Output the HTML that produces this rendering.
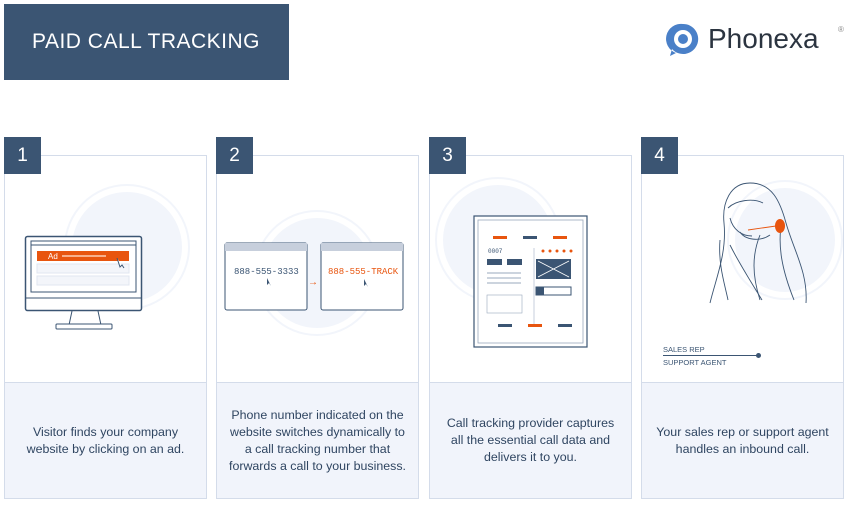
<!DOCTYPE html>
<html><head><meta charset="utf-8"><style>
body{margin:0;width:853px;height:506px;background:#fff;position:relative;overflow:hidden;font-family:"Liberation Sans",sans-serif}
.hdr{position:absolute;left:4px;top:4px;width:285px;height:76px;background:#3b5573;color:#fff;font-size:21px;line-height:76px;text-indent:28px;letter-spacing:0.5px}
.card{position:absolute;top:155px;width:203px;height:344px;border:1px solid #d4dcea;box-sizing:border-box}
.txt{position:absolute;left:0;right:0;bottom:0;height:115px;background:#f1f4fb;border-top:1px solid #d4dcea;display:flex;align-items:center;justify-content:center;text-align:center;font-size:12.4px;line-height:17px;color:#2f4561;padding:0 2px;white-space:nowrap}
.badge{position:absolute;top:137px;width:37px;height:37px;background:#3b5573;color:#fff;font-size:19px;line-height:37px;text-align:center}
.circ{position:absolute;border-radius:50%;background:#f2f5fb;box-shadow:0 0 0 6px #fff,0 0 0 8px #f2f5fb}
svg{position:absolute}
</style></head><body>
<div class="hdr">PAID CALL TRACKING</div>
<svg style="left:666px;top:22px" width="34" height="36" viewBox="0 0 34 36"><path d="M17 2a15 15 0 1 1-11 25l-2 7 6-3A15 15 0 0 1 17 2z" fill="#4a80c8"/><circle cx="17" cy="17" r="9" fill="#fff"/><circle cx="17" cy="17" r="5" fill="#4a80c8"/></svg>
<div style="position:absolute;left:708px;top:23px;font-size:28px;color:#2b3440">Phonexa</div>
<div style="position:absolute;left:838px;top:25px;font-size:8px;color:#888">®</div>

<div class="card" style="left:4px"><div class="txt">Visitor finds your company<br>website by clicking on an ad.</div></div>
<div class="card" style="left:216px"><div class="txt">Phone number indicated on the<br>website switches dynamically to<br>a call tracking number that<br>forwards a call to your business.</div></div>
<div class="card" style="left:429px"><div class="txt">Call tracking provider captures<br>all the essential call data and<br>delivers it to you.</div></div>
<div class="card" style="left:641px"><div class="txt">Your sales rep or support agent<br>handles an inbound call.</div></div>
<div class="badge" style="left:4px">1</div>
<div class="badge" style="left:216px">2</div>
<div class="badge" style="left:429px">3</div>
<div class="badge" style="left:641px">4</div>

<div class="circ" style="left:72px;top:192px;width:110px;height:110px"></div>
<div class="circ" style="left:262px;top:218px;width:110px;height:110px"></div>
<div class="circ" style="left:443px;top:185px;width:110px;height:110px"></div>
<div class="circ" style="left:735px;top:188px;width:100px;height:104px"></div>

<!-- monitor -->
<svg style="left:24px;top:235px" width="122" height="96"><rect x="1.5" y="1.5" width="116" height="74" rx="2" fill="#fff" stroke="#3b5573" stroke-width="1.5"/><rect x="7" y="6" width="105" height="51" fill="#fff" stroke="#3b5573"/><line x1="7" y1="10" x2="112" y2="10" stroke="#3b5573"/><rect x="13" y="16" width="92" height="10" fill="#e8550f"/><text x="24" y="24" font-size="8" fill="#fff" font-family="Liberation Sans">Ad</text><line x1="38" y1="21" x2="82" y2="21" stroke="#f7b08c" stroke-width="2"/><rect x="13" y="29" width="92" height="9" fill="#f3f5fa" stroke="#e0e6f0"/><rect x="13" y="41" width="92" height="9" fill="#f3f5fa" stroke="#e0e6f0"/><line x1="2" y1="63" x2="117" y2="63" stroke="#3b5573"/><path d="M48 76l-3 14h32l-3-14" fill="none" stroke="#3b5573"/><rect x="32" y="89" width="56" height="5" rx="1" fill="#fff" stroke="#3b5573"/><path d="M93 23l3 9 2-2 2 3" fill="#fff" stroke="#3b5573"/></svg>

<!-- windows -->
<svg style="left:224px;top:242px" width="182" height="70"><rect x="1" y="1" width="82" height="67" rx="2" fill="#fff" stroke="#3b5573"/><rect x="1" y="1" width="82" height="8" fill="#c7cfdc"/><rect x="97" y="1" width="82" height="67" rx="2" fill="#fff" stroke="#3b5573"/><rect x="97" y="1" width="82" height="8" fill="#c7cfdc"/><text x="10" y="32" font-size="9" fill="#3b5573" font-family="Liberation Mono">888-555-3333</text><text x="104" y="32" font-size="9" fill="#e8550f" font-family="Liberation Mono">888-555-TRACK</text><text x="84" y="43" font-size="10" fill="#e8550f">→</text><path d="M43 36l0 7 2-2 2 3" fill="#3b5573"/><path d="M140 37l0 7 2-2 2 3" fill="#3b5573"/></svg>

<!-- report -->
<svg style="left:473px;top:215px" width="116" height="134"><rect x="1" y="1" width="113" height="131" fill="#fff" stroke="#3b5573" stroke-width="1.2"/><rect x="5" y="5" width="105" height="123" fill="none" stroke="#9aa8bc" stroke-width="0.8"/><rect x="20" y="21" width="14" height="3" fill="#e8550f"/><rect x="50" y="21" width="14" height="3" fill="#3b5573"/><rect x="80" y="21" width="14" height="3" fill="#e8550f"/><text x="15" y="38" font-size="6" fill="#3b5573" font-family="Liberation Mono">0007</text><rect x="14" y="44" width="15" height="6" fill="#3b5573"/><rect x="34" y="44" width="15" height="6" fill="#3b5573"/><line x1="14" y1="58" x2="48" y2="58" stroke="#9aa8bc"/><line x1="14" y1="63" x2="48" y2="63" stroke="#9aa8bc"/><line x1="14" y1="68" x2="48" y2="68" stroke="#9aa8bc"/><rect x="14" y="80" width="35" height="18" fill="none" stroke="#9aa8bc" stroke-width="0.6"/><line x1="61" y1="33" x2="61" y2="110" stroke="#c7cfdc"/><g fill="#e8550f"><circle cx="70" cy="36" r="1.5"/><circle cx="77" cy="36" r="1.5"/><circle cx="84" cy="36" r="1.5"/><circle cx="91" cy="36" r="1.5"/><circle cx="98" cy="36" r="1.5"/></g><rect x="63" y="44" width="35" height="20" fill="#3b5573"/><path d="M65 46l31 16M96 46l-31 16" stroke="#fff" stroke-width="0.8"/><rect x="63" y="72" width="35" height="8" fill="none" stroke="#3b5573"/><rect x="63" y="72" width="8" height="8" fill="#3b5573"/><rect x="25" y="109" width="14" height="3" fill="#3b5573"/><rect x="55" y="109" width="14" height="3" fill="#e8550f"/><rect x="85" y="109" width="14" height="3" fill="#3b5573"/></svg>

<!-- woman -->
<svg style="left:700px;top:180px" width="120" height="130" fill="none" stroke="#3b5573" stroke-width="0.9"><path d="M50 3c-20 0-28 20-26 40 3 30-8 55-14 80"/><path d="M50 3c22 0 30 18 36 40 8 28 22 50 20 80"/><path d="M28 28c8-8 25-10 35-5"/><path d="M30 38c3 12 12 18 22 18"/><path d="M40 52c5 8 20 10 30 3"/><path d="M30 65c10 20 20 35 32 55"/><path d="M60 55c-8 20-8 40 0 65"/><path d="M82 40c-5 25 0 50 12 80"/><path d="M20 60c-2 25 5 45 8 60"/><ellipse cx="80" cy="46" rx="5" ry="7" fill="#e8550f" stroke="none"/><path d="M48 50l28-4" stroke="#e8550f"/></svg>
<div style="position:absolute;left:663px;top:345px;font-size:7.5px;color:#3b5573">SALES REP</div>
<div style="position:absolute;left:663px;top:358px;font-size:7.5px;color:#3b5573">SUPPORT AGENT</div>
<div style="position:absolute;left:663px;top:355px;width:95px;height:1px;background:#3b5573"></div>
<div style="position:absolute;left:756px;top:353px;width:5px;height:5px;border-radius:50%;background:#3b5573"></div>
</body></html>
